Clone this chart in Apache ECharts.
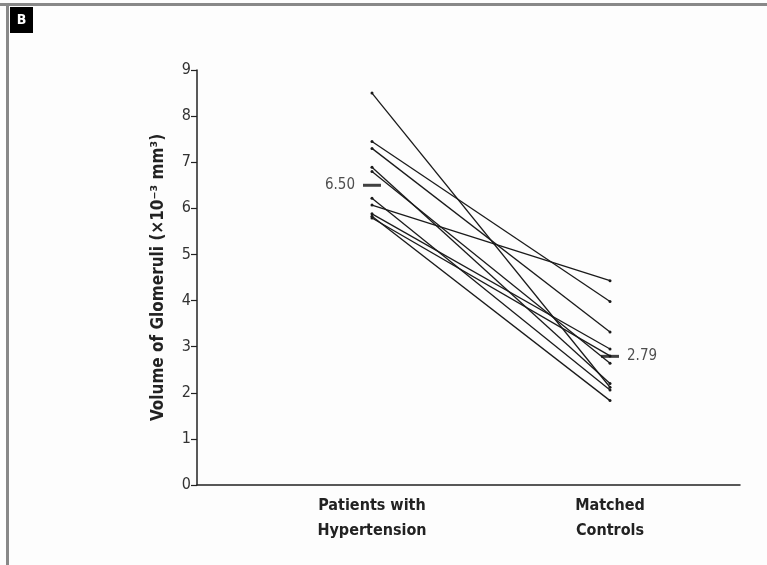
<!DOCTYPE html>
<html>
<head>
<meta charset="utf-8">
<title>Volume of Glomeruli</title>
<script src="https://cdn.jsdelivr.net/npm/echarts@6/dist/echarts.min.js"></script>
<style>
  html, body { margin: 0; padding: 0; background: #fdfdfd; }
  #chart { width: 767px; height: 565px; }
</style>
</head>
<body>
<div id="chart"></div>
<script>
// groups on the x axis (1 = patients, 2 = controls)
var groups = ['Patients with\nHypertension', 'Matched\nControls']
// one pair per subject, volume x10^-3 mm3
var hypertension = [8.50, 7.45, 7.30, 6.89, 6.80, 6.22, 6.07, 5.88, 5.83, 5.79]
var controls = [2.12, 3.98, 3.32, 2.20, 2.64, 2.06, 4.43, 2.95, 1.83, 2.80]
var means = [6.50, 2.79]
var yTicks = [0, 1, 2, 3, 4, 5, 6, 7, 8, 9]

var font = "'DejaVu Sans Condensed', 'Liberation Sans Narrow', Roboto, sans-serif"

var chart = echarts.init(document.getElementById('chart'))

var pairSeries = hypertension.map(function (v, i) {
  return {
    type: 'line',
    data: [[1, v], [2, controls[i]]],
    symbol: 'circle',
    symbolSize: 3,
    itemStyle: { color: '#1a1a1a' },
    lineStyle: { color: '#1a1a1a', width: 1.3 },
    silent: true,
    z: 2
  }
})

var meanLabel = {
  show: true,
  formatter: function (p) { return p.value[1].toFixed(2) },
  position: 'left',
  distance: 8,
  color: '#222',
  fontFamily: font,
  fontSize: 15
}

chart.setOption({
  animation: false,
  backgroundColor: '#fdfdfd',
  grid: { left: 197, right: 27, top: 70, bottom: 80 },
  xAxis: {
    type: 'value',
    min: 0.265,
    max: 2.546,
    splitLine: { show: false },
    axisLine: { lineStyle: { color: '#222', width: 1.5 } },
    axisTick: { show: false },
    axisLabel: {
      customValues: [1, 2],
      formatter: function (v) { return groups[Math.round(v) - 1] },
      color: '#222',
      fontFamily: font,
      fontWeight: 'bold',
      fontSize: 16,
      lineHeight: 25,
      margin: 8
    }
  },
  yAxis: {
    type: 'value',
    min: 0,
    max: 9,
    interval: 1,
    name: 'Volume of Glomeruli (×10⁻³ mm³)',
    nameLocation: 'middle',
    nameGap: 30,
    nameTextStyle: { color: '#222', fontFamily: font, fontWeight: 'bold', fontSize: 17 },
    splitLine: { show: false },
    axisLine: { lineStyle: { color: '#222', width: 1.5 } },
    axisTick: { inside: false, length: 6, lineStyle: { color: '#222', width: 1.2 } },
    axisLabel: {
      customValues: yTicks,
      color: '#333',
      fontFamily: font,
      fontSize: 16,
      margin: 6
    }
  },
  series: pairSeries.concat([
    {
      type: 'scatter',
      data: [
        { value: [1, means[0]] },
        { value: [2, means[1]], label: { position: 'right' } }
      ],
      symbol: 'rect',
      symbolSize: [18, 3],
      itemStyle: { color: '#111' },
      label: meanLabel,
      z: 3
    }
  ]),
  graphic: [
    { type: 'line', shape: { x1: 0, y1: 4.5, x2: 767, y2: 4.5 }, style: { stroke: '#888', lineWidth: 3 } },
    { type: 'line', shape: { x1: 7.5, y1: 4, x2: 7.5, y2: 565 }, style: { stroke: '#888', lineWidth: 3 } },
    { type: 'rect', shape: { x: 10, y: 7, width: 23, height: 26 }, style: { fill: '#000' } },
    { type: 'text', x: 21.5, y: 20, style: { text: 'B', fill: '#fff', font: 'bold 14px ' + font, align: 'center', verticalAlign: 'middle' } }
  ]
})
</script>
</body>
</html>
